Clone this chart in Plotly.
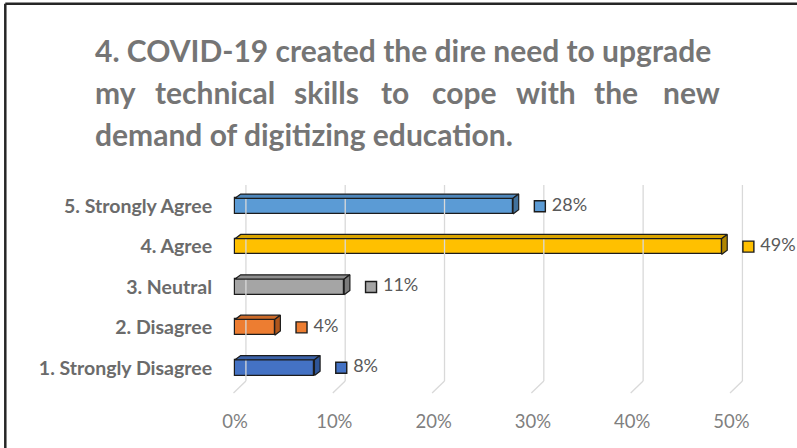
import plotly.graph_objects as go

# Survey responses (percent of respondents)
categories = ["1. Strongly Disagree", "2. Disagree", "3. Neutral", "4. Agree", "5. Strongly Agree"]
values = [8, 4, 11, 49, 28]
front_colors = ["#4472C4", "#ED7D31", "#A5A5A5", "#FFC000", "#5B9BD5"]
top_colors = ["#3B62A8", "#CC6A28", "#8E8E8E", "#D9A400", "#4E86BA"]
side_colors = ["#2F5597", "#B0561C", "#7B7B7B", "#B08600", "#41719C"]
tick_values = [0, 10, 20, 30, 40, 50]
tick_labels = ["0%", "10%", "20%", "30%", "40%", "50%"]

title_line1 = "4. COVID-19 created the dire need to upgrade"
title_line2_words = ["my", "technical", "skills", "to", "cope", "with", "the", "new"]
title_line3 = "demand of digitizing education."

# Figure geometry
W, H = 797, 448
L, R, T, B = 226, 0, 184, 50
PX_PER_UNIT = 9.93          # pixels per percentage point
ZERO_PX = 235               # pixel column of the 0% front edge
PW, PH = W - L - R, H - T - B
x0 = -(ZERO_PX - L) / PX_PER_UNIT
x1 = x0 + PW / PX_PER_UNIT
y0, y1 = -0.75, 4.55

# 3D look
BAR_H = 0.39                # front face thickness (category units)
DEPTH_X, DEPTH_Y = 0.57, 0.106
WALL_DX = 1.1               # back wall offset of the gridlines
FLOOR_BACK, FLOOR_FRONT, WALL_TOP = -0.329, -0.626, 4.525
OUTLINE = "#1c1c1c"


def px_x(px):
    return (px - L) / PW


def px_y(py):
    return 1 - (py - T) / PH


fig = go.Figure()

# Back-wall gridlines and their floor projections
gx, gy = [], []
for t in tick_values:
    gx += [t + WALL_DX, t + WALL_DX, None, t + WALL_DX, t - 0.15, None]
    gy += [WALL_TOP, FLOOR_BACK, None, FLOOR_BACK, FLOOR_FRONT, None]
fig.add_trace(go.Scatter(x=gx, y=gy, mode="lines",
                         line=dict(color="#d9d9d9", width=1.3),
                         hoverinfo="skip", showlegend=False, cliponaxis=False))

ypos = list(range(len(categories)))

# Front faces of the bars
fig.add_trace(go.Bar(
    x=values, y=ypos, orientation="h", width=BAR_H, base=0,
    marker=dict(color=front_colors, line=dict(color=OUTLINE, width=1.2)),
    showlegend=False, hoverinfo="skip",
))

# Top and side faces
for yv, v, tc, sc in zip(ypos, values, top_colors, side_colors):
    top = yv + BAR_H / 2
    bot = yv - BAR_H / 2
    fig.add_trace(go.Scatter(
        x=[0, v, v + DEPTH_X, DEPTH_X, 0],
        y=[top, top, top + DEPTH_Y, top + DEPTH_Y, top],
        mode="lines", fill="toself", fillcolor=tc,
        line=dict(color=OUTLINE, width=1.2),
        hoverinfo="skip", showlegend=False))
    fig.add_trace(go.Scatter(
        x=[v, v + DEPTH_X, v + DEPTH_X, v, v],
        y=[bot, bot + DEPTH_Y, top + DEPTH_Y, top, bot],
        mode="lines", fill="toself", fillcolor=sc,
        line=dict(color=OUTLINE, width=1.2),
        hoverinfo="skip", showlegend=False))

# Data labels: legend key squares plus value text
fig.add_trace(go.Scatter(
    x=[v + 2.7 for v in values], y=ypos, mode="markers",
    marker=dict(symbol="square", size=11, color=front_colors,
                line=dict(color=OUTLINE, width=1.4)),
    hoverinfo="skip", showlegend=False, cliponaxis=False))
fig.add_trace(go.Scatter(
    x=[v + 3.9 for v in values], y=ypos, mode="text",
    text=[f"{v}%" for v in values], textposition="middle right",
    textfont=dict(family="Lato", size=18, color="#595959"),
    hoverinfo="skip", showlegend=False, cliponaxis=False))

# Title, justified over three lines
title_font = dict(family="Lato", size=30, color="#757575", weight="bold")
fig.add_annotation(text=title_line1, x=px_x(93), y=px_y(50), xref="paper", yref="paper",
                   xanchor="left", yanchor="middle", showarrow=False, font=title_font)
word_px = [93, 152.5, 292, 379, 429.6, 513.5, 592, 661]
for wpx, word in zip(word_px, title_line2_words):
    fig.add_annotation(text=word, x=px_x(wpx), y=px_y(92), xref="paper", yref="paper",
                       xanchor="left", yanchor="middle", showarrow=False, font=title_font)
fig.add_annotation(text=title_line3, x=px_x(93), y=px_y(134), xref="paper", yref="paper",
                   xanchor="left", yanchor="middle", showarrow=False, font=title_font)

# Outer frame (top and left edges)
fig.add_shape(type="line", xref="paper", yref="paper",
              x0=px_x(5.3), x1=px_x(800), y0=px_y(3.7), y1=px_y(3.7),
              line=dict(color="#262626", width=2.5))
fig.add_shape(type="line", xref="paper", yref="paper",
              x0=px_x(5.3), x1=px_x(5.3), y0=px_y(3.7), y1=px_y(452),
              line=dict(color="#262626", width=2.5))

fig.update_layout(
    width=W, height=H,
    margin=dict(l=L, r=R, t=T, b=B),
    paper_bgcolor="white", plot_bgcolor="white",
    bargap=0,
    xaxis=dict(range=[x0, x1], tickvals=tick_values, ticktext=tick_labels,
               showgrid=False, zeroline=False, showline=False,
               ticks="outside", ticklen=7, tickcolor="rgba(0,0,0,0)",
               tickfont=dict(family="Lato", size=18.5, color="#7f7f7f")),
    yaxis=dict(range=[y0, y1], tickvals=ypos, ticktext=categories,
               showgrid=False, zeroline=False, showline=False,
               ticks="outside", ticklen=9, tickcolor="rgba(0,0,0,0)",
               tickfont=dict(family="Lato", size=19.5, color="#6b6b6b", weight="bold")),
)

fig.write_html("out.html")
